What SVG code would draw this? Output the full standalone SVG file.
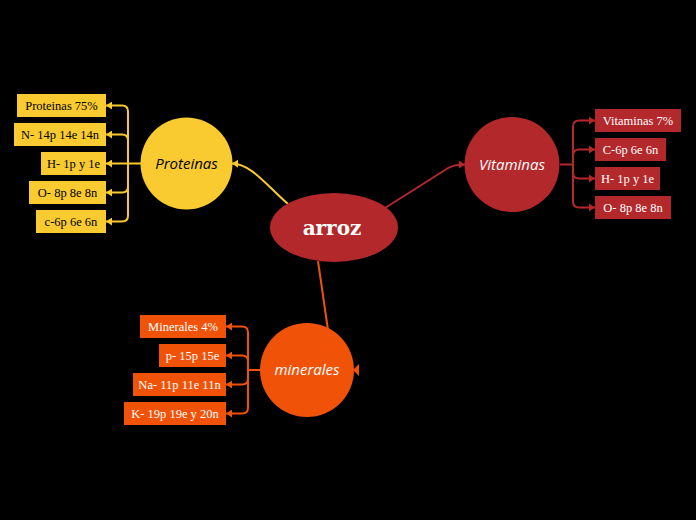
<svg xmlns="http://www.w3.org/2000/svg" width="696" height="520" viewBox="0 0 696 520">
<style>
.bx{font-family:"Liberation Serif","DejaVu Serif",serif;font-size:12.5px;text-anchor:middle}
.ct{font-family:"Open Sans","DejaVu Sans",sans-serif;font-style:italic;font-size:15px;text-anchor:middle}
.y{fill:#f9cb30}.r{fill:#b2282b}.o{fill:#f05208}
.ly{stroke:#f9cb30;fill:none;stroke-width:2}
.lr{stroke:#b2282b;fill:none;stroke-width:2}
.lo{stroke:#f05208;fill:none;stroke-width:2}
.ar{font-family:"DejaVu Serif",serif;font-weight:bold;font-size:20px;fill:#fff;text-anchor:middle}
</style>
<defs>
<marker id="my" viewBox="0 0 6 8" refX="6" refY="4" markerWidth="6" markerHeight="8" markerUnits="userSpaceOnUse" orient="auto"><path d="M0,0 L6,4 L0,8 z" fill="#f9cb30"/></marker>
<marker id="mr" viewBox="0 0 6 8" refX="6" refY="4" markerWidth="6" markerHeight="8" markerUnits="userSpaceOnUse" orient="auto"><path d="M0,0 L6,4 L0,8 z" fill="#b2282b"/></marker>
<marker id="mo" viewBox="0 0 6 8" refX="6" refY="4" markerWidth="6" markerHeight="8" markerUnits="userSpaceOnUse" orient="auto"><path d="M0,0 L6,4 L0,8 z" fill="#f05208"/></marker>
</defs>
<rect width="696" height="520" fill="#000"/>
<g id="connectors">
<path class="ly" d="M288,204 C268,187 252,164 232,163.5" marker-end="url(#my)"/>
<path class="lr" d="M385,208 L445,170 Q452,164.5 465,164.5" marker-end="url(#mr)"/>
<path class="lo" d="M318,261 L328,330"/>
<polygon points="359,364 359,376 353,370" fill="#f05208"/>
<path class="ly" d="M141,163.5 H128"/>
<path class="ly" d="M128,163.5 V111.5 Q128,105.5 122,105.5 H106" marker-end="url(#my)"/>
<path class="ly" d="M128,163.5 V140.5 Q128,134.5 122,134.5 H106" marker-end="url(#my)"/>
<path class="ly" d="M128,163.5 H106" marker-end="url(#my)"/>
<path class="ly" d="M128,163.5 V186.5 Q128,192.5 122,192.5 H106" marker-end="url(#my)"/>
<path class="ly" d="M128,163.5 V215.5 Q128,221.5 122,221.5 H106" marker-end="url(#my)"/>
<path class="lr" d="M560,164.5 H573"/>
<path class="lr" d="M573,164.5 V126.5 Q573,120.5 579,120.5 H595" marker-end="url(#mr)"/>
<path class="lr" d="M573,164.5 V155.5 Q573,149.5 579,149.5 H595" marker-end="url(#mr)"/>
<path class="lr" d="M573,164.5 V172.5 Q573,178.5 579,178.5 H595" marker-end="url(#mr)"/>
<path class="lr" d="M573,164.5 V201.5 Q573,207.5 579,207.5 H595" marker-end="url(#mr)"/>
<path class="lo" d="M261,370 H248"/>
<path class="lo" d="M248,370 V332.5 Q248,326.5 242,326.5 H226" marker-end="url(#mo)"/>
<path class="lo" d="M248,370 V361.5 Q248,355.5 242,355.5 H226" marker-end="url(#mo)"/>
<path class="lo" d="M248,370 V378.5 Q248,384.5 242,384.5 H226" marker-end="url(#mo)"/>
<path class="lo" d="M248,370 V407.5 Q248,413.5 242,413.5 H226" marker-end="url(#mo)"/>
</g>
<g id="arroz">
<ellipse cx="334" cy="227.5" rx="64" ry="34.5" class="r"/>
<text x="332" y="235" class="ar">arroz</text>
</g>
<g id="proteinas">
<circle cx="186.5" cy="163.5" r="46" class="y"/>
<text x="186.5" y="168.5" class="ct" fill="#000">Proteinas</text>
</g>
<g id="vitaminas">
<circle cx="512" cy="164.5" r="47.5" class="r"/>
<text x="512" y="169.5" class="ct" fill="#fff">Vitaminas</text>
</g>
<g id="minerales">
<circle cx="307" cy="370" r="47" class="o"/>
<text x="307" y="375" class="ct" fill="#fff">minerales</text>
</g>
<g id="p1"><rect x="17" y="94" width="89" height="23" class="y"/><text x="61.5" y="110" class="bx" fill="#000">Proteinas 75%</text></g>
<g id="p2"><rect x="14" y="123" width="92" height="23" class="y"/><text x="60" y="139" class="bx" fill="#000">N- 14p 14e 14n</text></g>
<g id="p3"><rect x="41" y="152" width="65" height="23" class="y"/><text x="73.5" y="168" class="bx" fill="#000">H- 1p y 1e</text></g>
<g id="p4"><rect x="29" y="181" width="77" height="23" class="y"/><text x="67.5" y="197" class="bx" fill="#000">O- 8p 8e 8n</text></g>
<g id="p5"><rect x="36" y="210" width="70" height="23" class="y"/><text x="71" y="226" class="bx" fill="#000">c-6p 6e 6n</text></g>
<g id="v1"><rect x="595" y="109" width="86" height="23" class="r"/><text x="638" y="125" class="bx" fill="#fff">Vitaminas 7%</text></g>
<g id="v2"><rect x="595" y="138" width="71" height="23" class="r"/><text x="630.5" y="154" class="bx" fill="#fff">C-6p 6e 6n</text></g>
<g id="v3"><rect x="595" y="167" width="65" height="23" class="r"/><text x="627.5" y="183" class="bx" fill="#fff">H- 1p y 1e</text></g>
<g id="v4"><rect x="595" y="196" width="76" height="23" class="r"/><text x="633" y="212" class="bx" fill="#fff">O- 8p 8e 8n</text></g>
<g id="m1"><rect x="140" y="315" width="86" height="23" class="o"/><text x="183" y="331" class="bx" fill="#fff">Minerales 4%</text></g>
<g id="m2"><rect x="159" y="344" width="67" height="23" class="o"/><text x="192.5" y="360" class="bx" fill="#fff">p- 15p 15e</text></g>
<g id="m3"><rect x="133" y="373" width="93" height="23" class="o"/><text x="179.5" y="389" class="bx" fill="#fff">Na- 11p 11e 11n</text></g>
<g id="m4"><rect x="124" y="402" width="102" height="23" class="o"/><text x="175" y="418" class="bx" fill="#fff">K- 19p 19e y 20n</text></g>
</svg>
